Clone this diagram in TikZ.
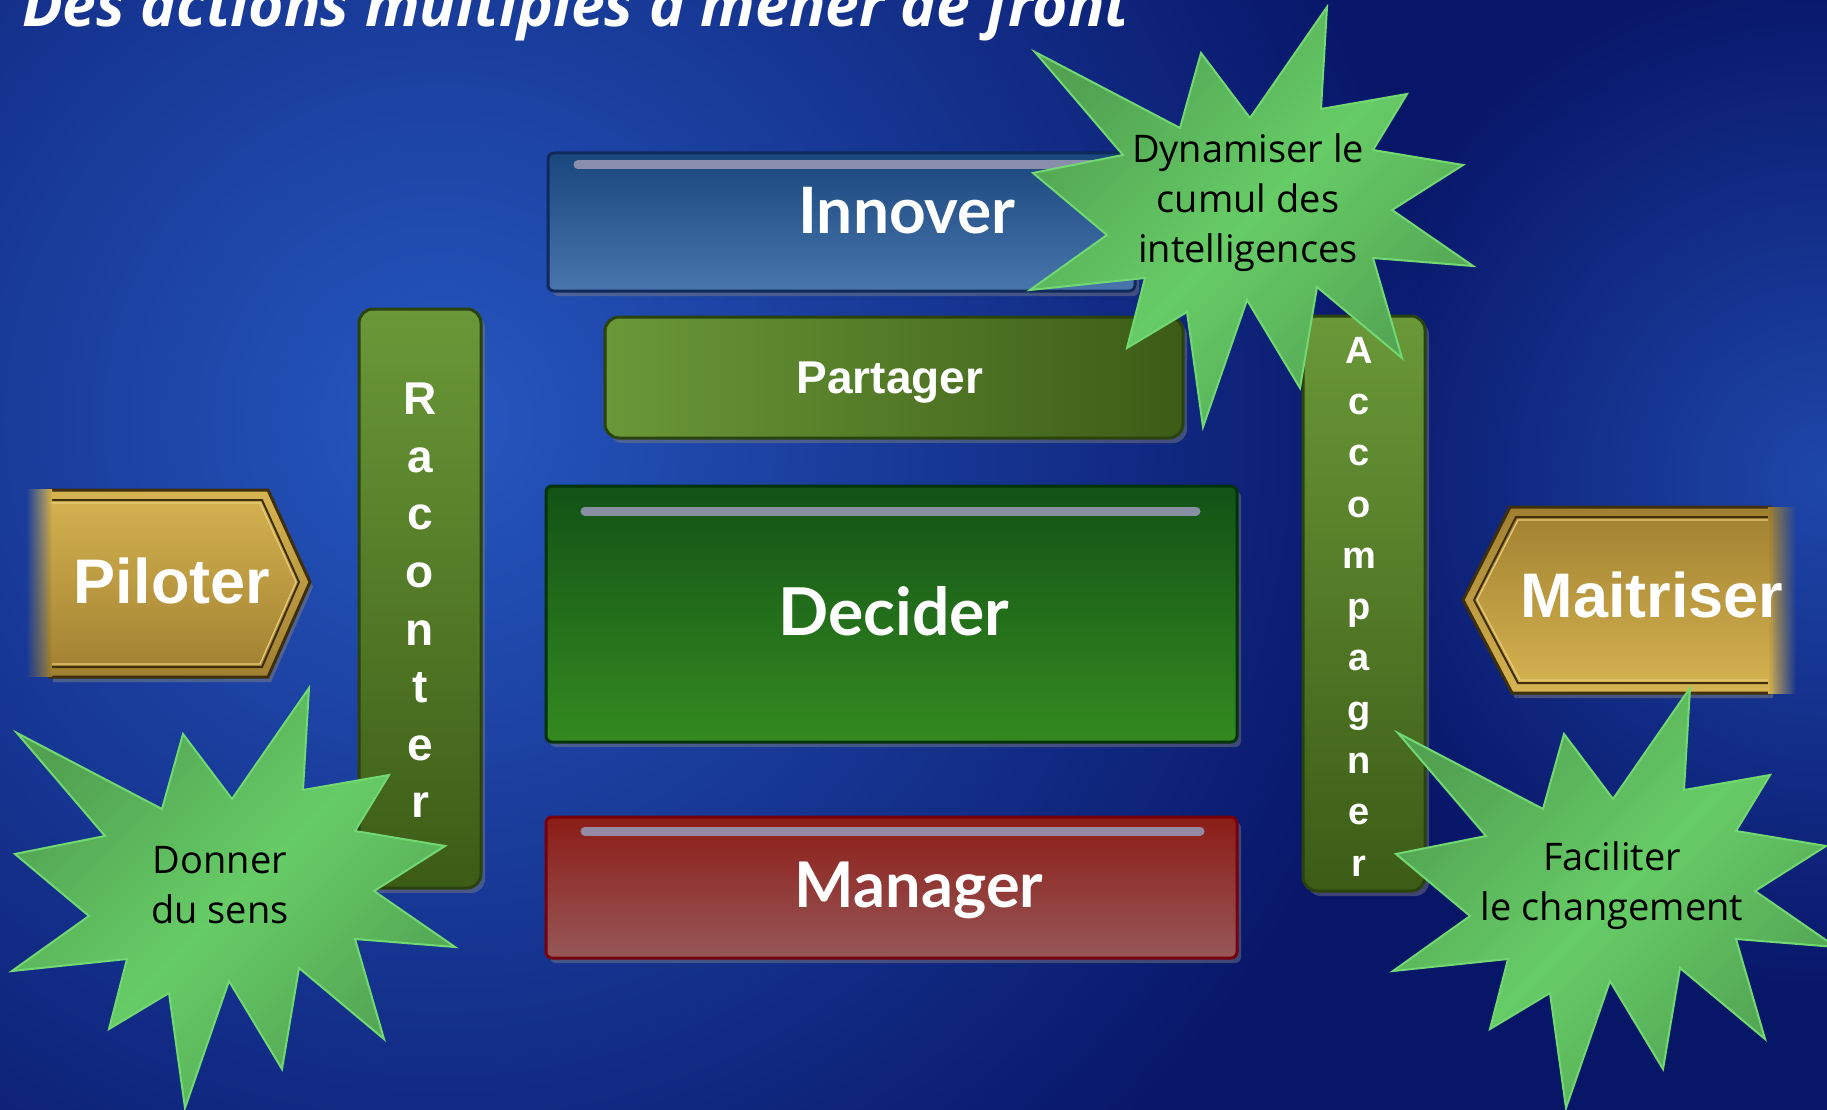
\documentclass[tikz,border=0pt]{standalone}
\usepackage{fontspec}
\setmainfont{Open Sans}
\newfontfamily\arialfont{Liberation Sans}
\newfontfamily\latofont{Lato}
\usepackage{xcolor}
\usetikzlibrary{shapes, arrows, shadows, calc, positioning, fit, fadings}

\definecolor{bgDark}{RGB}{8,22,104}
\definecolor{bgLight}{RGB}{38,88,192}
\definecolor{innTop}{RGB}{25,70,125}
\definecolor{innBot}{RGB}{72,118,172}
\definecolor{innEdge}{RGB}{15,42,90}
\definecolor{decTop}{RGB}{18,82,22}
\definecolor{decMid}{RGB}{28,108,26}
\definecolor{decBot}{RGB}{52,138,32}
\definecolor{decEdge}{RGB}{4,50,10}
\definecolor{manTop}{RGB}{140,28,22}
\definecolor{manBot}{RGB}{150,88,88}
\definecolor{manEdge}{RGB}{118,0,12}
\definecolor{vertTop}{RGB}{106,152,56}
\definecolor{vertBot}{RGB}{60,92,22}
\definecolor{vertEdge}{RGB}{42,66,14}
\definecolor{goldLight}{RGB}{214,180,82}
\definecolor{goldDark}{RGB}{160,128,48}
\definecolor{goldEdge}{RGB}{62,46,10}
\definecolor{goldLine}{RGB}{232,204,124}
\definecolor{starFill}{RGB}{102,204,102}
\definecolor{starDark}{RGB}{82,162,82}
\definecolor{starEdge}{RGB}{114,216,114}
\definecolor{hiLine}{RGB}{150,150,178}

\tikzfading[name=fadeleft, left color=transparent!100, right color=transparent!0]
\tikzfading[name=faderight, left color=transparent!0, right color=transparent!100]
\tikzfading[name=glow, inner color=transparent!0, outer color=transparent!100]

% outline of one burst, relative to its upper left spike
\newcommand{\burstshape}{(0,0) -- (145,76) -- (166,1) -- (215,66) -- (292,-45)
  -- (286,57) -- (372,42) -- (338,98) -- (428,113) -- (357,158) -- (438,214)
  -- (338,206) -- (367,306) -- (282,235) -- (265,336) -- (212,248) -- (168,375)
  -- (152,260) -- (92,296) -- (110,226) -- (-5,238) -- (72,183) -- (-2,121)
  -- (88,103) -- cycle}

\begin{document}
\begin{tikzpicture}[x=1pt, y=-1pt,
    every node/.style = {inner sep=0pt, outer sep=0pt},
    bar/.style = {rectangle, rounded corners=6pt, line width=3pt,
        drop shadow={opacity=0.45, shadow xshift=4pt, shadow yshift=-5pt}},
    gloss/.style = {line width=9pt, line cap=round, draw=hiLine, opacity=0.9},
    boxlabel/.style = {anchor=base, text=white, font=\latofont\bfseries\fontsize{64}{76}\selectfont},
    goldlabel/.style = {anchor=base, text=white, font=\arialfont\bfseries\fontsize{63}{75}\selectfont},
    letters/.style = {anchor=north, align=center, text=white},
    goldframe/.style = {draw=goldEdge, line width=3pt,
        drop shadow={opacity=0.5, shadow xshift=3pt, shadow yshift=-5pt}},
    burst/.style = {draw=starEdge, line width=2pt, top color=starDark,
        bottom color=starDark, middle color=starFill, shading angle=45},
    burstlabel/.style = {align=center, text=black, font=\fontsize{38}{50}\selectfont}
]
    \useasboundingbox (0,0) rectangle (1827,1110);
    \clip (0,0) rectangle (1827,1110);

    % background
    \fill[bgDark] (0,0) rectangle (1827,1110);
    \fill[bgLight, path fading=glow] (440,420) circle (1000);
    \fill[bgLight, path fading=glow, opacity=0.75] (1827,480) circle (520);

    % title
    \node[anchor=base west, text=white, font=\bfseries\itshape\fontsize{60.5}{70}\selectfont] (title) at (22,27) {Des actions multiples à mener de front};

    % central boxes
    \node[bar, minimum width=587pt, minimum height=138pt, draw=innEdge, top color=innTop, bottom color=innBot] (innover) at (841.5,222) {};
    \draw[gloss] ($(innover.north west)+(30,12)$) -- ($(innover.north east)+(-25,12)$);
    \node[boxlabel] (innoverlbl) at (907,233) {Innover};

    \node[bar, rounded corners=14pt, minimum width=578pt, minimum height=121pt, draw=vertEdge, left color=vertTop, right color=vertBot] (partager) at (894,377.5) {};
    \node[anchor=base, text=white, font=\arialfont\bfseries\fontsize{46}{55}\selectfont] (partagerlbl) at (890,393) {Partager};

    \node[bar, minimum width=691pt, minimum height=256pt, draw=decEdge, top color=decTop, middle color=decMid, bottom color=decBot] (decider) at (891.5,614) {};
    \draw[gloss] ($(decider.north west)+(39,25)$) -- ($(decider.north east)+(-41,25)$);
    \node[boxlabel, font=\latofont\bfseries\fontsize{66}{78}\selectfont] (deciderlbl) at (894,635) {Decider};

    \node[bar, minimum width=691pt, minimum height=141pt, draw=manEdge, top color=manTop, bottom color=manBot] (manager) at (891.5,887.5) {};
    \draw[gloss] ($(manager.north west)+(39,14)$) -- ($(manager.north east)+(-37,14)$);
    \node[boxlabel, font=\latofont\bfseries\fontsize{63}{75}\selectfont] (managerlbl) at (919,907) {Manager};

    % vertical bars
    \node[bar, rounded corners=14pt, minimum width=122pt, minimum height=579pt, draw=vertEdge, top color=vertTop, bottom color=vertBot] (raconter) at (420,598.5) {};
    \node[letters, font=\arialfont\bfseries\fontsize{46}{57.6}\selectfont] (raconterlbl) at (420,383) {R\\a\\c\\o\\n\\t\\e\\r};

    \node[bar, rounded corners=14pt, minimum width=122pt, minimum height=575pt, draw=vertEdge, top color=vertTop, bottom color=vertBot] (accomp) at (1364,603.5) {};
    \node[letters, font=\arialfont\bfseries\fontsize{38}{51.3}\selectfont] (accomplbl) at (1359,337) {A\\c\\c\\o\\m\\p\\a\\g\\n\\e\\r};

    % gold arrows
    \path[goldframe, top color=goldLight, bottom color=goldDark] (50,490) -- (268,490) -- (310,582) -- (268,677) -- (50,677) -- cycle;
    \draw[goldEdge, line width=2pt] (50,500) -- (262,500) -- (299,582) -- (262,667) -- (50,667);
    \draw[goldLine, line width=1.2pt] (50,503) -- (260,503) -- (296,582) -- (260,664) -- (50,664);
    \shade[top color=goldLight, bottom color=goldDark, path fading=fadeleft] (26,490) rectangle (52,677);
    \node[goldlabel] (piloter) at (172,603) {Piloter};

    \path[goldframe, top color=goldDark, bottom color=goldLight] (1770,507) -- (1510,507) -- (1463,600) -- (1512,693) -- (1770,693) -- cycle;
    \draw[goldEdge, line width=2pt] (1770,517) -- (1516,517) -- (1474,600) -- (1518,683) -- (1770,683);
    \draw[goldLine, line width=1.2pt] (1770,520) -- (1518,520) -- (1477,600) -- (1520,680) -- (1770,680);
    \shade[top color=goldDark, bottom color=goldLight, path fading=faderight] (1768,507) rectangle (1796,693);
    \node[goldlabel] (maitriser) at (1652,617) {Maitriser};

    % bursts
    \path[burst, shift={(1035,52)}] \burstshape;
    \node[burstlabel] (dynamiser) at (1248,203) {Dynamiser le\\cumul des\\intelligences};

    \path[burst, shift={(17,733)}] \burstshape;
    \node[burstlabel] (donner) at (220,885) {Donner\\du sens};

    \path[burst, shift={(1398,733)}] \burstshape;
    \node[burstlabel] (faciliter) at (1612,886) {Faciliter\\le changement};
\end{tikzpicture}
\end{document}
